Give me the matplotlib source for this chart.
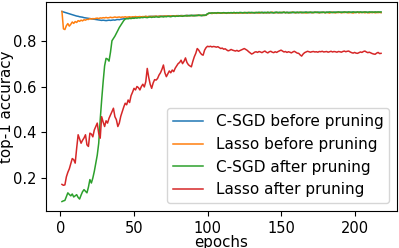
import numpy as np
import matplotlib
matplotlib.use("Agg")
import matplotlib.pyplot as plt

epochs = np.arange(1, 219)

csgd_before = [
    0.928, 0.926, 0.924, 0.922, 0.920, 0.918, 0.916, 0.914, 0.912, 0.910,
    0.908, 0.907, 0.905, 0.904, 0.903, 0.901, 0.900, 0.899, 0.898, 0.897,
    0.896, 0.895, 0.894, 0.893, 0.892, 0.891, 0.890, 0.889, 0.890, 0.889,
    0.888, 0.889, 0.890, 0.889, 0.890, 0.891, 0.890, 0.892, 0.893, 0.892,
    0.894, 0.895, 0.896, 0.897, 0.898, 0.899, 0.900, 0.901, 0.902, 0.903,
    0.903, 0.904, 0.903, 0.904, 0.905, 0.904, 0.905, 0.906, 0.905, 0.906,
    0.906, 0.907, 0.906, 0.907, 0.907, 0.906, 0.907, 0.908, 0.907, 0.908,
    0.908, 0.907, 0.908, 0.909, 0.908, 0.909, 0.909, 0.908, 0.909, 0.910,
    0.909, 0.910, 0.910, 0.909, 0.910, 0.911, 0.910, 0.911, 0.910, 0.911,
    0.911, 0.910, 0.911, 0.912, 0.911, 0.910, 0.911, 0.912, 0.911, 0.918,
    0.920, 0.921, 0.920, 0.921, 0.921, 0.920, 0.921, 0.922, 0.921, 0.921,
    0.922, 0.921, 0.922, 0.921, 0.922, 0.922, 0.921, 0.922, 0.922, 0.923,
    0.922, 0.922, 0.923, 0.922, 0.922, 0.923, 0.922, 0.923, 0.923, 0.922,
    0.923, 0.922, 0.923, 0.923, 0.922, 0.923, 0.923, 0.924, 0.923, 0.923,
    0.922, 0.923, 0.924, 0.923, 0.923, 0.924, 0.923, 0.923, 0.924, 0.923,
    0.923, 0.924, 0.923, 0.924, 0.924, 0.923, 0.924, 0.923, 0.924, 0.924,
    0.923, 0.924, 0.924, 0.923, 0.924, 0.924, 0.925, 0.924, 0.924, 0.923,
    0.924, 0.924, 0.925, 0.924, 0.924, 0.925, 0.924, 0.924, 0.925, 0.924,
    0.924, 0.925, 0.924, 0.925, 0.925, 0.924, 0.925, 0.924, 0.925, 0.925,
    0.924, 0.925, 0.925, 0.924, 0.925, 0.925, 0.924, 0.925, 0.925, 0.924,
    0.925, 0.925, 0.924, 0.925, 0.925, 0.924, 0.925, 0.925, 0.924, 0.925,
    0.925, 0.924, 0.925, 0.925, 0.924, 0.925, 0.925, 0.924,
]

lasso_before = [
    0.928, 0.852, 0.849, 0.866, 0.875, 0.864, 0.872, 0.882, 0.876, 0.884,
    0.880, 0.888, 0.885, 0.890, 0.887, 0.892, 0.890, 0.894, 0.893, 0.897,
    0.895, 0.897, 0.896, 0.898, 0.899, 0.897, 0.900, 0.899, 0.901, 0.900,
    0.902, 0.900, 0.901, 0.903, 0.901, 0.902, 0.904, 0.902, 0.903, 0.904,
    0.902, 0.904, 0.903, 0.905, 0.903, 0.904, 0.905, 0.903, 0.905, 0.904,
    0.906, 0.904, 0.905, 0.906, 0.904, 0.906, 0.905, 0.907, 0.905, 0.906,
    0.907, 0.905, 0.907, 0.906, 0.908, 0.906, 0.907, 0.908, 0.906, 0.908,
    0.907, 0.909, 0.907, 0.908, 0.909, 0.907, 0.909, 0.908, 0.910, 0.908,
    0.909, 0.910, 0.908, 0.910, 0.909, 0.911, 0.909, 0.910, 0.911, 0.909,
    0.911, 0.910, 0.912, 0.910, 0.911, 0.912, 0.910, 0.911, 0.912, 0.917,
    0.920, 0.921, 0.919, 0.921, 0.920, 0.922, 0.920, 0.921, 0.922, 0.920,
    0.922, 0.921, 0.920, 0.922, 0.921, 0.923, 0.921, 0.922, 0.920, 0.922,
    0.923, 0.921, 0.922, 0.923, 0.921, 0.922, 0.924, 0.922, 0.921, 0.923,
    0.922, 0.924, 0.922, 0.923, 0.921, 0.923, 0.924, 0.922, 0.923, 0.922,
    0.924, 0.922, 0.923, 0.925, 0.923, 0.922, 0.924, 0.923, 0.922, 0.924,
    0.923, 0.925, 0.922, 0.924, 0.923, 0.922, 0.924, 0.925, 0.923, 0.922,
    0.924, 0.923, 0.925, 0.922, 0.924, 0.923, 0.921, 0.924, 0.923, 0.925,
    0.922, 0.924, 0.923, 0.925, 0.923, 0.922, 0.924, 0.923, 0.925, 0.922,
    0.924, 0.923, 0.921, 0.924, 0.925, 0.923, 0.922, 0.924, 0.923, 0.925,
    0.922, 0.924, 0.923, 0.925, 0.923, 0.922, 0.924, 0.923, 0.921, 0.924,
    0.923, 0.925, 0.922, 0.924, 0.923, 0.925, 0.922, 0.924, 0.923, 0.922,
    0.924, 0.923, 0.925, 0.922, 0.924, 0.923, 0.924, 0.923,
]

csgd_after = [
    0.097, 0.100, 0.102, 0.118, 0.135, 0.128, 0.122, 0.130, 0.117, 0.122,
    0.127, 0.115, 0.108, 0.125, 0.140, 0.149, 0.142, 0.135, 0.160, 0.193,
    0.178, 0.200, 0.229, 0.265, 0.300, 0.352, 0.454, 0.541, 0.620, 0.690,
    0.723, 0.720, 0.711, 0.750, 0.800, 0.810, 0.820, 0.832, 0.845, 0.858,
    0.868, 0.878, 0.888, 0.895, 0.897, 0.896, 0.898, 0.897, 0.899, 0.898,
    0.900, 0.899, 0.901, 0.900, 0.902, 0.901, 0.903, 0.902, 0.901, 0.903,
    0.904, 0.902, 0.904, 0.903, 0.905, 0.904, 0.903, 0.905, 0.906, 0.904,
    0.906, 0.905, 0.907, 0.906, 0.905, 0.907, 0.908, 0.906, 0.908, 0.907,
    0.909, 0.908, 0.907, 0.909, 0.910, 0.908, 0.910, 0.909, 0.911, 0.910,
    0.909, 0.911, 0.910, 0.912, 0.911, 0.910, 0.912, 0.911, 0.913, 0.918,
    0.921, 0.920, 0.922, 0.921, 0.922, 0.921, 0.923, 0.922, 0.921, 0.922,
    0.923, 0.922, 0.921, 0.923, 0.922, 0.923, 0.922, 0.924, 0.922, 0.923,
    0.922, 0.924, 0.923, 0.922, 0.924, 0.923, 0.922, 0.924, 0.923, 0.924,
    0.923, 0.922, 0.924, 0.923, 0.925, 0.923, 0.924, 0.922, 0.924, 0.923,
    0.925, 0.923, 0.924, 0.923, 0.922, 0.924, 0.925, 0.923, 0.924, 0.923,
    0.924, 0.925, 0.923, 0.924, 0.922, 0.924, 0.923, 0.925, 0.924, 0.923,
    0.925, 0.923, 0.924, 0.925, 0.923, 0.924, 0.925, 0.923, 0.924, 0.925,
    0.924, 0.923, 0.925, 0.924, 0.925, 0.923, 0.924, 0.925, 0.924, 0.923,
    0.925, 0.924, 0.926, 0.924, 0.923, 0.925, 0.924, 0.925, 0.926, 0.924,
    0.925, 0.924, 0.926, 0.925, 0.924, 0.926, 0.925, 0.924, 0.926, 0.925,
    0.924, 0.926, 0.925, 0.926, 0.924, 0.925, 0.926, 0.925, 0.924, 0.926,
    0.925, 0.926, 0.924, 0.926, 0.925, 0.926, 0.925, 0.926,
]

lasso_after = [
    0.172, 0.168, 0.170, 0.205, 0.225, 0.240, 0.262, 0.285, 0.280, 0.265,
    0.330, 0.389, 0.370, 0.352, 0.365, 0.375, 0.389, 0.345, 0.338, 0.396,
    0.392, 0.380, 0.410, 0.425, 0.440, 0.395, 0.374, 0.468, 0.445, 0.425,
    0.450, 0.440, 0.461, 0.475, 0.490, 0.505, 0.468, 0.455, 0.425, 0.440,
    0.470, 0.490, 0.510, 0.527, 0.520, 0.541, 0.530, 0.560, 0.575, 0.592,
    0.585, 0.600, 0.595, 0.585, 0.600, 0.610, 0.598, 0.621, 0.679, 0.640,
    0.610, 0.592, 0.615, 0.630, 0.628, 0.635, 0.650, 0.660, 0.675, 0.694,
    0.660, 0.643, 0.655, 0.668, 0.660, 0.672, 0.665, 0.680, 0.690, 0.700,
    0.705, 0.715, 0.700, 0.710, 0.725, 0.705, 0.695, 0.690, 0.686, 0.710,
    0.730, 0.745, 0.766, 0.759, 0.748, 0.740, 0.737, 0.759, 0.770, 0.776,
    0.774, 0.776, 0.773, 0.775, 0.774, 0.772, 0.774, 0.770, 0.766, 0.768,
    0.763, 0.765, 0.760, 0.756, 0.758, 0.762, 0.759, 0.757, 0.755, 0.758,
    0.754, 0.757, 0.760, 0.763, 0.766, 0.762, 0.758, 0.752, 0.747, 0.742,
    0.745, 0.750, 0.752, 0.749, 0.753, 0.751, 0.748, 0.752, 0.755, 0.750,
    0.747, 0.752, 0.754, 0.750, 0.748, 0.752, 0.749, 0.753, 0.756, 0.759,
    0.755, 0.751, 0.753, 0.749, 0.752, 0.750, 0.747, 0.751, 0.754, 0.750,
    0.746, 0.745, 0.738, 0.733, 0.742, 0.748, 0.751, 0.754, 0.752, 0.750,
    0.752, 0.753, 0.751, 0.752, 0.750, 0.753, 0.752, 0.754, 0.751, 0.752,
    0.753, 0.750, 0.752, 0.754, 0.751, 0.753, 0.752, 0.750, 0.753, 0.752,
    0.750, 0.753, 0.755, 0.752, 0.754, 0.755, 0.751, 0.748, 0.746, 0.749,
    0.746, 0.745, 0.748, 0.751, 0.749, 0.753, 0.755, 0.751, 0.748, 0.750,
    0.747, 0.744, 0.742, 0.741, 0.746, 0.749, 0.744, 0.745,
]

labels = ["C-SGD before pruning", "Lasso before pruning",
          "C-SGD after pruning", "Lasso after pruning"]

fig = plt.figure(figsize=(3.99, 2.48), dpi=100)
ax = fig.add_axes([0.1153, 0.149, 0.8797, 0.843])

for series, label in zip([csgd_before, lasso_before, csgd_after, lasso_after], labels):
    ax.plot(epochs, series, linewidth=1.1, label=label)

ax.set_xticks([0, 50, 100, 150, 200])
ax.set_yticks([0.2, 0.4, 0.6, 0.8])
ax.tick_params(labelsize=10.5)
ax.set_xlabel("epochs", fontsize=10.8, labelpad=-0.5)
ax.set_ylabel("top-1 accuracy", fontsize=10.8)
ax.yaxis.set_label_coords(-0.09, 0.5)
ax.legend(loc="lower right", fontsize=11)

plt.savefig("out.png", dpi=100)
